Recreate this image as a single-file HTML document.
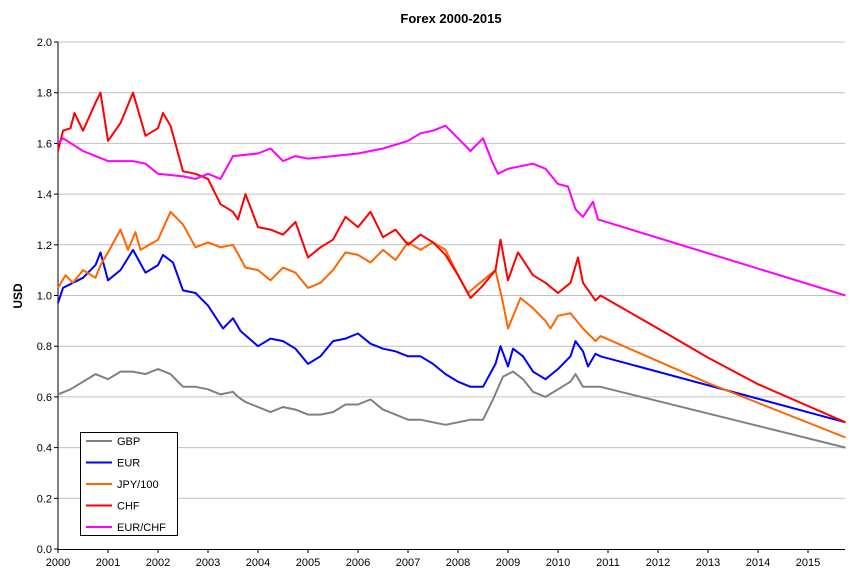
<!DOCTYPE html>
<html><head><meta charset="utf-8">
<style>
html,body{margin:0;padding:0;background:#fff;}
svg{display:block;font-family:"Liberation Sans",Arial,sans-serif;}
</style></head>
<body>
<svg id="chart" width="859" height="588">
<text x="451" y="23" text-anchor="middle" font-size="13" font-weight="bold">Forex 2000-2015</text>
<text transform="translate(22,296) rotate(-90)" text-anchor="middle" font-size="12" font-weight="bold">USD</text>
<g id="grid"></g><g id="axes"></g><g id="series"></g><g id="legend"></g>
</svg>
<script>
const yTicks=[0,0.2,0.4,0.6,0.8,1.0,1.2,1.4,1.6,1.8,2.0];
const xTicks=[2000,2001,2002,2003,2004,2005,2006,2007,2008,2009,2010,2011,2012,2013,2014,2015];
const seriesNames=["GBP","EUR","JPY/100","CHF","EUR/CHF"];
const seriesColors=["#808080","#0000ff","#ff6600","#ff0000","#ff00ff"];
const gbpT=[2000,2000.25,2000.5,2000.75,2001,2001.25,2001.5,2001.75,2002,2002.25,2002.5,2002.75,2003,2003.25,2003.5,2003.6,2003.75,2004,2004.25,2004.5,2004.75,2005,2005.25,2005.5,2005.75,2006,2006.25,2006.5,2006.75,2007,2007.25,2007.5,2007.75,2008,2008.25,2008.5,2008.7,2008.9,2009.1,2009.3,2009.5,2009.75,2010,2010.25,2010.35,2010.5,2010.75,2010.85,2015.75];
const gbpV=[0.61,0.63,0.66,0.69,0.67,0.70,0.70,0.69,0.71,0.69,0.64,0.64,0.63,0.61,0.62,0.60,0.58,0.56,0.54,0.56,0.55,0.53,0.53,0.54,0.57,0.57,0.59,0.55,0.53,0.51,0.51,0.50,0.49,0.50,0.51,0.51,0.59,0.68,0.70,0.67,0.62,0.60,0.63,0.66,0.69,0.64,0.64,0.64,0.40];
const eurT=[2000,2000.1,2000.3,2000.5,2000.75,2000.85,2001,2001.25,2001.5,2001.75,2002,2002.1,2002.3,2002.5,2002.75,2003,2003.3,2003.5,2003.65,2004,2004.25,2004.5,2004.75,2005,2005.25,2005.5,2005.75,2006,2006.25,2006.5,2006.75,2007,2007.25,2007.5,2007.75,2008,2008.25,2008.5,2008.75,2008.85,2009,2009.1,2009.3,2009.5,2009.75,2010,2010.25,2010.35,2010.5,2010.6,2010.75,2010.85,2015.75];
const eurV=[0.97,1.03,1.05,1.07,1.12,1.17,1.06,1.10,1.18,1.09,1.12,1.16,1.13,1.02,1.01,0.96,0.87,0.91,0.86,0.80,0.83,0.82,0.79,0.73,0.76,0.82,0.83,0.85,0.81,0.79,0.78,0.76,0.76,0.73,0.69,0.66,0.64,0.64,0.73,0.80,0.72,0.79,0.76,0.70,0.67,0.71,0.76,0.82,0.78,0.72,0.77,0.76,0.50];
const jpyT=[2000,2000.15,2000.3,2000.5,2000.75,2000.85,2001,2001.25,2001.4,2001.55,2001.65,2002,2002.25,2002.5,2002.75,2003,2003.25,2003.5,2003.75,2004,2004.25,2004.5,2004.75,2005,2005.25,2005.5,2005.75,2006,2006.25,2006.5,2006.75,2007,2007.25,2007.5,2007.75,2008,2008.2,2008.5,2008.75,2008.9,2009,2009.25,2009.5,2009.75,2009.85,2010,2010.25,2010.5,2010.75,2010.85,2013,2015.75];
const jpyV=[1.03,1.08,1.05,1.10,1.07,1.12,1.17,1.26,1.18,1.25,1.18,1.22,1.33,1.28,1.19,1.21,1.19,1.20,1.11,1.10,1.06,1.11,1.09,1.03,1.05,1.10,1.17,1.16,1.13,1.18,1.14,1.21,1.18,1.21,1.18,1.08,1.01,1.06,1.10,0.97,0.87,0.99,0.95,0.90,0.87,0.92,0.93,0.87,0.82,0.84,0.655,0.44];
const chfT=[2000,2000.1,2000.25,2000.33,2000.5,2000.75,2000.85,2001,2001.25,2001.5,2001.75,2002,2002.1,2002.25,2002.5,2002.75,2003,2003.25,2003.5,2003.6,2003.75,2004,2004.25,2004.5,2004.75,2005,2005.25,2005.5,2005.75,2006,2006.25,2006.5,2006.75,2007,2007.25,2007.5,2007.75,2008,2008.25,2008.5,2008.75,2008.85,2009,2009.2,2009.5,2009.75,2010,2010.25,2010.4,2010.5,2010.75,2010.85,2012,2013,2014,2015.75];
const chfV=[1.57,1.65,1.66,1.72,1.65,1.76,1.80,1.61,1.68,1.80,1.63,1.66,1.72,1.67,1.49,1.48,1.46,1.36,1.33,1.30,1.40,1.27,1.26,1.24,1.29,1.15,1.19,1.22,1.31,1.27,1.33,1.23,1.26,1.20,1.24,1.21,1.16,1.08,0.99,1.04,1.10,1.22,1.06,1.17,1.08,1.05,1.01,1.05,1.15,1.05,0.98,1.00,0.87,0.755,0.65,0.50];
const ecT=[2000,2000.1,2000.5,2001,2001.5,2001.75,2002,2002.5,2002.75,2003,2003.25,2003.5,2004,2004.25,2004.5,2004.75,2005,2005.5,2006,2006.5,2007,2007.25,2007.5,2007.75,2008,2008.25,2008.5,2008.7,2008.8,2009,2009.5,2009.75,2010,2010.2,2010.35,2010.5,2010.7,2010.8,2015.75];
const ecV=[1.60,1.62,1.57,1.53,1.53,1.52,1.48,1.47,1.46,1.48,1.46,1.55,1.56,1.58,1.53,1.55,1.54,1.55,1.56,1.58,1.61,1.64,1.65,1.67,1.62,1.57,1.62,1.52,1.48,1.50,1.52,1.50,1.44,1.43,1.34,1.31,1.37,1.30,1.00];

const X0=58,X1=845,Y0=549,Y1=42;
const xs=t=>X0+(t-2000)*50;
const ys=v=>Y0-(v-0)/(2.0)*(Y0-Y1);
const NS="http://www.w3.org/2000/svg";
function mk(tag,attrs,parent){const e=document.createElementNS(NS,tag);for(const k in attrs)e.setAttribute(k,attrs[k]);parent.appendChild(e);return e;}
const grid=document.getElementById('grid'),axes=document.getElementById('axes'),ser=document.getElementById('series'),leg=document.getElementById('legend');
yTicks.forEach(v=>{
  if(v>0){const g=mk('line',{x1:X0,x2:X1,y1:ys(v),y2:ys(v),stroke:'#c0c0c0','stroke-width':1},grid);
  
  }
  const tk=mk('line',{x1:X0-4,x2:X0,y1:ys(v),y2:ys(v),stroke:'#000'},axes);
  
  
  const t=mk('text',{x:X0-6,y:ys(v)+4,'text-anchor':'end','font-size':11},axes);
  t.textContent=v.toFixed(1);
  
  
});
xTicks.forEach(yr=>{
  const tk=mk('line',{x1:xs(yr),x2:xs(yr),y1:Y0,y2:Y0+4,stroke:'#000'},axes);
  
  
  const t=mk('text',{x:xs(yr),y:Y0+17,'text-anchor':'middle','font-size':11},axes);
  t.textContent=yr;
  
  
});
const ya=mk('line',{x1:X0,x2:X0,y1:Y1,y2:Y0,stroke:'#000'},axes);


const xa=mk('line',{x1:X0,x2:X1,y1:Y0+0.5,y2:Y0+0.5,stroke:'#000'},axes);


const allT=[gbpT,eurT,jpyT,chfT,ecT],allV=[gbpV,eurV,jpyV,chfV,ecV];
const snames=['gbp-line','eur-line','jpy-line','chf-line','eurchf-line'];
allT.forEach((T,i)=>{
  const pts=T.map((t,j)=>xs(t).toFixed(1)+','+ys(allV[i][j]).toFixed(1)).join(' ');
  const p=mk('polyline',{points:pts,fill:'none',stroke:seriesColors[i],'stroke-width':2,'stroke-linejoin':'round'},ser);
  
  
});
const box=mk('rect',{x:80.5,y:432.5,width:97,height:103,fill:'#fff',stroke:'#000'},leg);


seriesNames.forEach((n,i)=>{
  const y=441+i*21.5;
  const l=mk('line',{x1:86,x2:112,y1:y,y2:y,stroke:seriesColors[i],'stroke-width':2},leg);
  
  
  const t=mk('text',{x:117,y:y+4,'font-size':11},leg);
  t.textContent=n;
  
  
});
</script>
</body></html>
